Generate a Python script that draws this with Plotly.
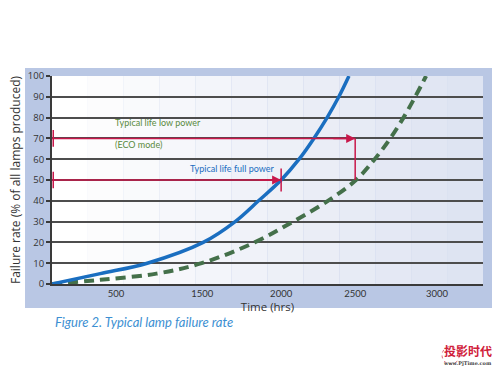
import plotly.graph_objects as go

# Data (hours, % failed)
blue_hours = [530, 840, 1141, 1500, 1705, 1855, 2000, 2115, 2210, 2295, 2370, 2435]
blue_pct = [0, 5, 10, 20, 30, 40, 50, 60, 70, 80, 90, 100]
green_hours = [530, 840, 1200, 1490, 1830, 2077, 2300, 2480, 2600, 2700, 2785, 2860, 2930]
green_pct = [0, 2, 5, 10, 20, 30, 40, 50, 60, 70, 80, 90, 100]

x_tick_pos = [940, 1494, 2000, 2475, 3000]
x_tick_text = ["500", "1500", "2000", "2500", "3000"]
y_ticks = [0, 10, 20, 30, 40, 50, 60, 70, 80, 90, 100]

full_life = 2000
full_pct = 50
low_life = 2475
low_pct = 70
x_start = 530

RED = "#c8174a"
BLUE = "#1a6ec0"
GREEN = "#44704a"
GRID = "#4d4d4d"

fig = go.Figure()
fig.add_trace(go.Scatter(x=green_hours, y=green_pct, mode="lines", hoverinfo="skip",
                         line=dict(color=GREEN, width=4, dash="10px,6px", shape="spline")))
fig.add_trace(go.Scatter(x=blue_hours, y=blue_pct, mode="lines", hoverinfo="skip",
                         line=dict(color=BLUE, width=3.5, shape="spline")))

shapes = []
# outer panel
shapes.append(dict(type="rect", xref="paper", yref="paper", x0=-0.0626, x1=1.0209,
                   y0=-0.1154, y1=1.0385, fillcolor="#b9c7e4", line_width=0, layer="below"))
# plot background gradient bands
n = 12
for i in range(n):
    t = i / (n - 1)
    r = int(255 + (222 - 255) * t)
    g = int(255 + (228 - 255) * t)
    b = int(255 + (242 - 255) * t)
    shapes.append(dict(type="rect", xref="paper", yref="paper", x0=i / n, x1=(i + 1) / n,
                       y0=0, y1=1, fillcolor=f"rgb({r},{g},{b})", line_width=0, layer="below"))
# red markers
shapes += [
    dict(type="line", x0=x_start, x1=low_life, y0=low_pct, y1=low_pct, line=dict(color=RED, width=1.5)),
    dict(type="line", x0=low_life, x1=low_life, y0=low_pct, y1=full_pct, line=dict(color=RED, width=1.5)),
    dict(type="line", x0=x_start, x1=full_life, y0=full_pct, y1=full_pct, line=dict(color=RED, width=1.5)),
    dict(type="line", x0=full_life, x1=full_life, y0=44.5, y1=55.5, line=dict(color=RED, width=1.5)),
    dict(type="line", x0=x_start + 8, x1=x_start + 8, y0=66, y1=74, line=dict(color=RED, width=1.5)),
    dict(type="line", x0=x_start + 8, x1=x_start + 8, y0=46, y1=54, line=dict(color=RED, width=1.5)),
]
# watermark logo circle
shapes.append(dict(type="circle", xref="paper", yref="paper", x0=0.905, x1=0.945, y0=-0.385, y1=-0.30,
                   line=dict(color="#e07080", width=1, dash="dot"), fillcolor="rgba(0,0,0,0)"))
fig.update_layout(shapes=shapes)

annotations = [
    dict(x=low_life, y=low_pct, ax=low_life - 150, ay=low_pct, axref="x", ayref="y",
         showarrow=True, arrowhead=2, arrowsize=1.2, arrowwidth=1.5, arrowcolor=RED, text=""),
    dict(x=full_life, y=full_pct, ax=full_life - 150, ay=full_pct, axref="x", ayref="y",
         showarrow=True, arrowhead=2, arrowsize=1.2, arrowwidth=1.5, arrowcolor=RED, text=""),
    dict(x=920, y=77.5, text="Typical life low power", showarrow=False, xanchor="left",
         font=dict(family="Lato", size=9, color="#5a8a3c")),
    dict(x=920, y=67, text="(ECO mode)", showarrow=False, xanchor="left",
         font=dict(family="Lato", size=9, color="#5a8a3c")),
    dict(x=1405, y=55.5, text="Typical life full power", showarrow=False, xanchor="left",
         font=dict(family="Lato", size=9, color=BLUE)),
    dict(xref="paper", yref="paper", x=0.003, y=-0.185, text="<i>Figure 2. Typical lamp failure rate</i>",
         showarrow=False, xanchor="left", yanchor="middle",
         font=dict(family="Lato", size=13, color="#3c8fd2")),
    dict(xref="paper", yref="paper", x=1.025, y=-0.318, text="<b>投影时代</b>",
         showarrow=False, xanchor="right", yanchor="middle",
         font=dict(family="Noto Sans CJK SC", size=12, color="#d0203a")),
    dict(xref="paper", yref="paper", x=1.025, y=-0.38, text="<b>www.PjTime.com</b>",
         showarrow=False, xanchor="right", yanchor="middle",
         font=dict(family="DejaVu Serif", size=5, color="#444")),
]
fig.update_layout(annotations=annotations)

fig.update_layout(
    width=500, height=375,
    margin=dict(l=52, r=17, t=76, b=91),
    paper_bgcolor="white",
    plot_bgcolor="rgba(0,0,0,0)",
    showlegend=False,
    xaxis=dict(range=[x_start, 3295], tickvals=x_tick_pos, ticktext=x_tick_text,
               showgrid=False, zeroline=False, showline=True, linecolor="#3a3a3a", linewidth=2,
               ticks="", tickfont=dict(family="Lato", size=9.5, color="#333"),
               title=dict(text="Time (hrs)", font=dict(family="Open Sans", size=11.5, color="#333"), standoff=0)),
    yaxis=dict(range=[0, 100], tickvals=y_ticks, showgrid=True, gridcolor=GRID, gridwidth=2,
               zeroline=False, showline=True, linecolor="#3a3a3a", linewidth=2,
               ticks="outside", ticklen=4, tickcolor="#3a3a3a", tickwidth=1.5,
               tickfont=dict(family="Open Sans", size=9.5, color="#333"),
               title=dict(text="Failure rate (% of all lamps produced)",
                          font=dict(family="Open Sans", size=12, color="#333"), standoff=5)),
)

fig.write_html("out.html", post_script="document.body.style.margin='0';",
               config={"displayModeBar": False})
